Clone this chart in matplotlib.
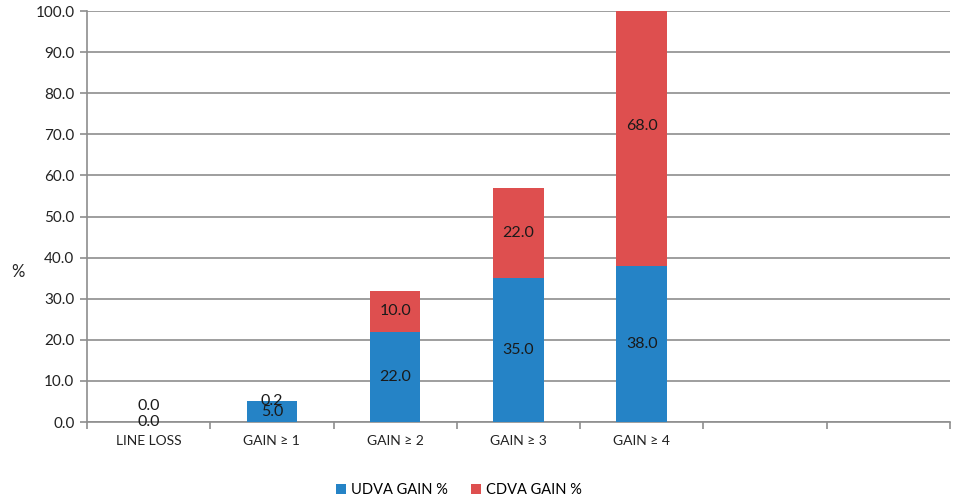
import numpy as np
import matplotlib.pyplot as plt

plt.rcParams['font.family'] = ['Lato', 'DejaVu Sans']

categories = ['LINE LOSS', 'GAIN ≥ 1', 'GAIN ≥ 2', 'GAIN ≥ 3', 'GAIN ≥ 4', '', '']
udva = [0.0, 5.0, 22.0, 35.0, 38.0]
cdva = [0.0, 0.2, 10.0, 22.0, 68.0]

blue = '#2583c6'
red = '#de4f4f'
grey = '#8e8e8e'

fig = plt.figure(figsize=(9.56, 5.03), dpi=100)
ax = fig.add_axes([0.091, 0.161, 0.9027, 0.817])

n = len(categories)
x = np.arange(len(udva))
w = 0.41
ax.bar(x, udva, w, color=blue, label='UDVA GAIN %', zorder=3)
ax.bar(x, cdva, w, bottom=udva, color=red, label='CDVA GAIN %', zorder=3)

# value labels in the middle of each segment
for i in range(len(udva)):
    ax.text(x[i], udva[i] / 2, f'{udva[i]:.1f}', ha='center', va='center',
            fontsize=11.5, color='#1a1a1a', zorder=4)
    yc = udva[i] + cdva[i] / 2
    if cdva[i] == 0:
        yc += 3.8
    ax.text(x[i], yc, f'{cdva[i]:.1f}', ha='center', va='center',
            fontsize=11.5, color='#1a1a1a', zorder=4)

ax.set_xlim(-0.5, n - 0.5)
ax.set_ylim(0, 100)
ax.set_yticks(np.arange(0, 101, 10))
ax.set_yticklabels([f'{v:.1f}' for v in np.arange(0, 101, 10)], fontsize=11, color='#222222')
ax.yaxis.grid(True, color=grey, linewidth=1.2, zorder=0)

# category labels centred, tick marks between categories
ax.set_xticks(np.arange(-0.5, n, 1.0))
ax.set_xticklabels([])
ax.set_xticks(np.arange(n), minor=True)
ax.set_xticklabels(categories, minor=True, fontsize=10, color='#222222')
ax.tick_params(axis='x', which='minor', length=0, pad=9)
ax.tick_params(axis='x', which='major', length=5, color=grey, width=1.2)
ax.tick_params(axis='y', length=5, color=grey, width=1.2, pad=4)

for s in ['top', 'right']:
    ax.spines[s].set_visible(False)
for s in ['left', 'bottom']:
    ax.spines[s].set_color(grey)
    ax.spines[s].set_linewidth(1.2)

fig.text(0.019, 0.46, '%', fontsize=12, color='#222222', ha='center', va='center')

fig.legend(loc='center', bbox_to_anchor=(0.48, 0.025), ncol=2, frameon=False,
           fontsize=10.5, handlelength=0.7, handleheight=0.7, handletextpad=0.3,
           columnspacing=1.6)

fig.savefig('out.png', dpi=100)
